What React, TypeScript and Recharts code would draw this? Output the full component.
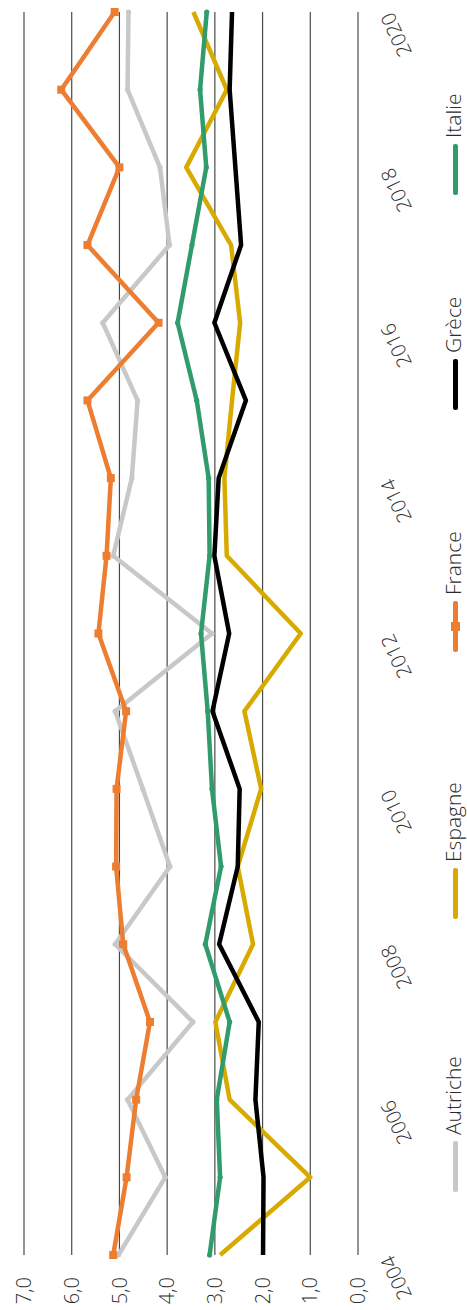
import React from 'react';
import { LineChart, Line, XAxis, YAxis, CartesianGrid } from 'recharts';

const years = [2004, 2005, 2006, 2007, 2008, 2009, 2010, 2011, 2012, 2013, 2014, 2015, 2016, 2017, 2018, 2019, 2020];
const yearTicks = [2004, 2006, 2008, 2010, 2012, 2014, 2016, 2018, 2020];
const valueTicks = [0, 1, 2, 3, 4, 5, 6, 7];

const autriche = [5.02, 4.04, 4.83, 3.46, 5.09, 3.94, 4.51, 5.09, 3.06, 5.13, 4.74, 4.62, 5.35, 3.95, 4.15, 4.83, 4.81];
const espagne = [2.89, 1.0, 2.69, 2.99, 2.2, 2.52, 2.03, 2.38, 1.2, 2.75, 2.8, 2.64, 2.47, 2.66, 3.6, 2.75, 3.45];
const france = [5.13, 4.85, 4.65, 4.36, 4.92, 5.07, 5.06, 4.86, 5.44, 5.27, 5.18, 5.67, 4.18, 5.67, 5.0, 6.22, 5.1];
const grece = [1.99, 1.98, 2.15, 2.08, 2.91, 2.52, 2.48, 3.05, 2.7, 3.01, 2.92, 2.35, 3.01, 2.45, 2.57, 2.69, 2.64];
const italie = [3.11, 2.89, 2.96, 2.69, 3.2, 2.87, 3.06, 3.15, 3.29, 3.11, 3.13, 3.38, 3.78, 3.48, 3.18, 3.31, 3.17];

const series = [
  { key: 'autriche', name: 'Autriche', color: '#C8C8C8', marker: 'dot' },
  { key: 'espagne', name: 'Espagne', color: '#D8AA00', marker: 'none' },
  { key: 'france', name: 'France', color: '#ED7D31', marker: 'square' },
  { key: 'grece', name: 'Grèce', color: '#000000', marker: 'none' },
  { key: 'italie', name: 'Italie', color: '#319C6B', marker: 'dot' },
];
const legendWidths = [273, 267, 242, 215, 120];

const data = years.map((year, i) => ({
  year,
  autriche: autriche[i],
  espagne: espagne[i],
  france: france[i],
  grece: grece[i],
  italie: italie[i],
}));

const FONT = '"Open Sans", sans-serif';
const TEXT = '#2b2b2b';

function YearTick(props: any) {
  const { x, y, payload } = props;
  return (
    <g transform={`translate(${x - 5},${y})`}>
      <text
        textAnchor="end"
        dy="0.71em"
        transform="rotate(-25)"
        fontFamily={FONT}
        fontWeight={300}
        fontSize={20}
        fill={TEXT}
      >
        {payload.value}
      </text>
    </g>
  );
}

function makeDot(color: string, kind: string) {
  return (props: any) => {
    const { cx, cy, index } = props;
    if (kind === 'square') {
      return <rect key={index} x={cx - 4} y={cy - 4} width={8} height={8} fill={color} />;
    }
    return <circle key={index} cx={cx} cy={cy} r={2.6} fill={color} />;
  };
}

// legend drawn as html: recharts measures its box with getBoundingClientRect,
// which the rotation would distort
function ChartLegend() {
  return (
    <div
      style={{
        position: 'absolute',
        left: 118,
        top: 442,
        height: 22,
        display: 'flex',
        alignItems: 'center',
        fontFamily: FONT,
        fontWeight: 300,
        fontSize: 21,
        color: TEXT,
        lineHeight: '22px',
      }}
    >
      {series.map((s, i) => (
        <div key={s.key} style={{ width: legendWidths[i], display: 'flex', alignItems: 'center', flexShrink: 0 }}>
          <div style={{ position: 'relative', width: 51, height: 5, marginTop: 5, background: s.color, borderRadius: 2 }}>
            {s.marker === 'square' && (
              <div style={{ position: 'absolute', left: 21, top: -2, width: 9, height: 9, background: s.color }} />
            )}
          </div>
          <span style={{ marginLeft: 6, whiteSpace: 'nowrap' }}>{s.name}</span>
        </div>
      ))}
    </div>
  );
}

export default function App() {
  return (
    <div style={{ position: 'absolute', left: 0, top: 0, width: 467, height: 1310, overflow: 'hidden', background: '#fff' }}>
      <div
        style={{
          position: 'absolute',
          left: 0,
          top: 0,
          width: 1310,
          height: 467,
          transformOrigin: '0 0',
          transform: 'translateY(1310px) rotate(-90deg)',
        }}
      >
        <LineChart width={1310} height={467} data={data} margin={{ top: 24, right: 12, left: 0, bottom: 40 }}>
          <CartesianGrid vertical={false} stroke="#4a4a4a" strokeWidth={1.2} />
          <XAxis
            dataKey="year"
            type="number"
            domain={[2004, 2020]}
            ticks={yearTicks}
            axisLine={false}
            tickLine={false}
            tickSize={0}
            tickMargin={22}
            height={69}
            tick={<YearTick />}
            interval={0}
          />
          <YAxis
            type="number"
            domain={[0, 7]}
            ticks={valueTicks}
            axisLine={false}
            tickLine={false}
            tickSize={0}
            tickMargin={22}
            width={55}
            interval={0}
            tickFormatter={(v: number) => v.toFixed(1).replace('.', ',')}
            tick={{ fontFamily: FONT, fontWeight: 300, fontSize: 20, fill: TEXT }}
          />
          {series.map((s) => (
            <Line
              key={s.key}
              type="linear"
              dataKey={s.key}
              name={s.name}
              stroke={s.color}
              strokeWidth={4.5}
              strokeLinejoin="round"
              dot={s.marker === 'none' ? false : makeDot(s.color, s.marker)}
              activeDot={false}
              isAnimationActive={false}
            />
          ))}
        </LineChart>
        <ChartLegend />
      </div>
    </div>
  );
}
